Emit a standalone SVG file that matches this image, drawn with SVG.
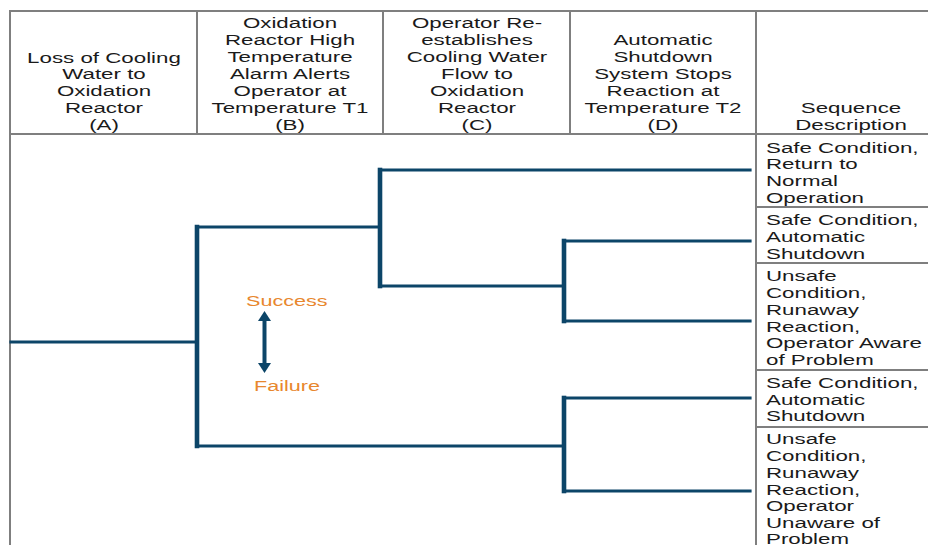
<svg xmlns="http://www.w3.org/2000/svg" width="928" height="545" viewBox="0 0 928 545">
  <style>
    .grid { stroke: #7f7f7f; stroke-width: 2; fill: none; }
    .head { font-family: "Liberation Sans", Arial, sans-serif; font-size: 15.5px; fill: #1a1a1a; text-anchor: middle; }
    .desc { font-family: "Liberation Sans", Arial, sans-serif; font-size: 15.5px; fill: #1a1a1a; }
    .branch { stroke: #0c4568; fill: none; stroke-linecap: square; }
    .h { stroke-width: 3.2; }
    .v { stroke-width: 4.6; }
    .key { font-family: "Liberation Sans", Arial, sans-serif; font-size: 15px; fill: #e8872e; }
  </style>
  <defs>
    <marker id="tip" viewBox="0 0 10 13" refX="0" refY="6.5" markerWidth="2.5" markerHeight="3.25" orient="auto-start-reverse" markerUnits="strokeWidth">
      <path d="M0,0 L10,6.5 L0,13 z" fill="#0c4568"/>
    </marker>
  </defs>
  <rect width="928" height="545" fill="#ffffff"/>

  <!-- table grid -->
  <g id="table">
    <line class="grid" x1="10" y1="11" x2="928" y2="11"/>
    <line class="grid" x1="10" y1="134" x2="928" y2="134"/>
    <line class="grid" x1="10" y1="10" x2="10" y2="545"/>
    <line class="grid" x1="197" y1="11" x2="197" y2="134"/>
    <line class="grid" x1="383" y1="11" x2="383" y2="134"/>
    <line class="grid" x1="570" y1="11" x2="570" y2="134"/>
    <line class="grid" x1="756" y1="11" x2="756" y2="545"/>
    <line class="grid" x1="756" y1="207" x2="928" y2="207"/>
    <line class="grid" x1="756" y1="263" x2="928" y2="263"/>
    <line class="grid" x1="756" y1="370" x2="928" y2="370"/>
    <line class="grid" x1="756" y1="427" x2="928" y2="427"/>
  </g>

  <!-- column headings (wide-set lettering) -->
  <g id="col-a" transform="translate(104 0) scale(1.44 1)">
    <text class="head" x="0" y="63">Loss of Cooling</text>
    <text class="head" x="0" y="79.5">Water to</text>
    <text class="head" x="0" y="96">Oxidation</text>
    <text class="head" x="0" y="113">Reactor</text>
    <text class="head" x="0" y="130">(A)</text>
  </g>
  <g id="col-b" transform="translate(290 0) scale(1.44 1)">
    <text class="head" x="0" y="28">Oxidation</text>
    <text class="head" x="0" y="45">Reactor High</text>
    <text class="head" x="0" y="62">Temperature</text>
    <text class="head" x="0" y="79">Alarm Alerts</text>
    <text class="head" x="0" y="96">Operator at</text>
    <text class="head" x="0" y="113">Temperature T1</text>
    <text class="head" x="0" y="130">(B)</text>
  </g>
  <g id="col-c" transform="translate(477 0) scale(1.44 1)">
    <text class="head" x="0" y="28">Operator Re-</text>
    <text class="head" x="0" y="45">establishes</text>
    <text class="head" x="0" y="62">Cooling Water</text>
    <text class="head" x="0" y="79">Flow to</text>
    <text class="head" x="0" y="96">Oxidation</text>
    <text class="head" x="0" y="113">Reactor</text>
    <text class="head" x="0" y="130">(C)</text>
  </g>
  <g id="col-d" transform="translate(663 0) scale(1.44 1)">
    <text class="head" x="0" y="45">Automatic</text>
    <text class="head" x="0" y="62">Shutdown</text>
    <text class="head" x="0" y="79">System Stops</text>
    <text class="head" x="0" y="96">Reaction at</text>
    <text class="head" x="0" y="113">Temperature T2</text>
    <text class="head" x="0" y="130">(D)</text>
  </g>
  <g id="col-e" transform="translate(851 0) scale(1.44 1)">
    <text class="head" x="0" y="113">Sequence</text>
    <text class="head" x="0" y="130">Description</text>
  </g>

  <!-- outcome descriptions -->
  <g id="outcome-1" transform="translate(766 0) scale(1.44 1)">
    <text class="desc" x="0" y="153">Safe Condition,</text>
    <text class="desc" x="0" y="169.5">Return to</text>
    <text class="desc" x="0" y="186">Normal</text>
    <text class="desc" x="0" y="203">Operation</text>
  </g>
  <g id="outcome-2" transform="translate(766 0) scale(1.44 1)">
    <text class="desc" x="0" y="225">Safe Condition,</text>
    <text class="desc" x="0" y="242">Automatic</text>
    <text class="desc" x="0" y="259">Shutdown</text>
  </g>
  <g id="outcome-3" transform="translate(766 0) scale(1.44 1)">
    <text class="desc" x="0" y="281">Unsafe</text>
    <text class="desc" x="0" y="298">Condition,</text>
    <text class="desc" x="0" y="315">Runaway</text>
    <text class="desc" x="0" y="332">Reaction,</text>
    <text class="desc" x="0" y="348">Operator Aware</text>
    <text class="desc" x="0" y="365">of Problem</text>
  </g>
  <g id="outcome-4" transform="translate(766 0) scale(1.44 1)">
    <text class="desc" x="0" y="388">Safe Condition,</text>
    <text class="desc" x="0" y="405">Automatic</text>
    <text class="desc" x="0" y="421">Shutdown</text>
  </g>
  <g id="outcome-5" transform="translate(766 0) scale(1.44 1)">
    <text class="desc" x="0" y="444">Unsafe</text>
    <text class="desc" x="0" y="461">Condition,</text>
    <text class="desc" x="0" y="478">Runaway</text>
    <text class="desc" x="0" y="495">Reaction,</text>
    <text class="desc" x="0" y="511">Operator</text>
    <text class="desc" x="0" y="528">Unaware of</text>
    <text class="desc" x="0" y="544">Problem</text>
  </g>

  <!-- event tree branches -->
  <g id="connectors">
    <line class="branch h" x1="11" y1="342" x2="197" y2="342"/>
    <line class="branch v" x1="197" y1="227" x2="197" y2="446"/>
    <line class="branch h" x1="197" y1="227" x2="380" y2="227"/>
    <line class="branch h" x1="197" y1="446" x2="564" y2="446"/>
    <line class="branch v" x1="380" y1="170" x2="380" y2="286"/>
    <line class="branch h" x1="380" y1="170" x2="750" y2="170"/>
    <line class="branch h" x1="380" y1="286" x2="564" y2="286"/>
    <line class="branch v" x1="564" y1="241" x2="564" y2="321"/>
    <line class="branch h" x1="564" y1="241" x2="750" y2="241"/>
    <line class="branch h" x1="564" y1="321" x2="750" y2="321"/>
    <line class="branch v" x1="564" y1="398" x2="564" y2="491"/>
    <line class="branch h" x1="564" y1="398" x2="750" y2="398"/>
    <line class="branch h" x1="564" y1="491" x2="750" y2="491"/>
  </g>

  <!-- success / failure key -->
  <g id="legend">
    <g transform="translate(246 0) scale(1.44 1)">
      <text class="key" x="0" y="306">Success</text>
    </g>
    <g transform="translate(254 0) scale(1.44 1)">
      <text class="key" x="0" y="391">Failure</text>
    </g>
    <line x1="264.5" y1="321" x2="264.5" y2="363" stroke="#0c4568" stroke-width="4" marker-start="url(#tip)" marker-end="url(#tip)"/>
  </g>
</svg>
